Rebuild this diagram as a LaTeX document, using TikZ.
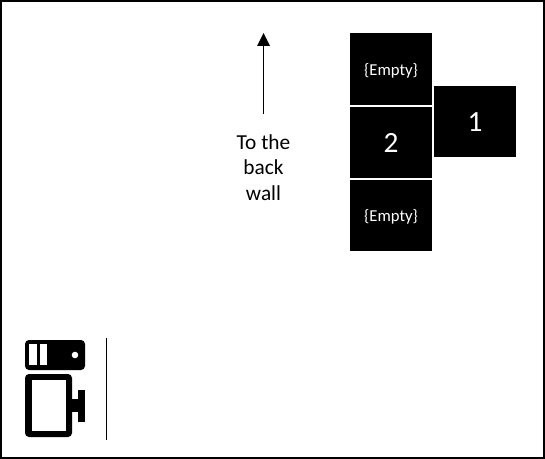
\documentclass[tikz,border=0pt]{standalone}
\usepackage{fontspec}
\setmainfont{Carlito}
\tikzset{
  slot/.style={draw=none, fill=black, minimum width=61.5pt, inner sep=0pt},
  slotlabel/.style={text=white, inner sep=0pt},
  note/.style={align=center, font=\fontsize{16}{19.3}\selectfont}
}
\begin{document}
\begin{tikzpicture}[x=0.75pt,y=-0.75pt]
    \useasboundingbox (0,0) rectangle (545,459);
    \draw[black, line width=1.5pt] (1,1) rectangle (544,458); % moldura

    % Blocos
    \node[slot, minimum height=54pt] (emptytop) at (391,69) {};
    \node[slot, minimum height=53.25pt] (two) at (391,142.5) {};
    \node[slot, minimum height=53.25pt] (emptybottom) at (391,215.5) {};
    \node[slot, minimum height=53.25pt] (one) at (475,121.5) {};

    % Textos dos blocos
    \node[slotlabel, font=\fontsize{12.5}{14}\selectfont] (emptytoplabel) at (391,70.5) {\{Empty\}};
    \node[slotlabel, font=\fontsize{22}{24}\selectfont] (twolabel) at (391,143) {2};
    \node[slotlabel, font=\fontsize{12.5}{14}\selectfont] (emptybottomlabel) at (391,217) {\{Empty\}};
    \node[slotlabel, font=\fontsize{22}{24}\selectfont] (onelabel) at (475,122) {1};

    % Seta
    \coordinate (arrowfoot) at (263.5,114);
    \coordinate (arrowhead) at (263.5,46);
    \draw[black, line width=0.75pt] (arrowfoot) -- (arrowhead);
    \fill[black] (263.5,33) -- (270,46) -- (257,46) -- cycle;
    \node[note] (wall) at (263.5,167.5) {To the\\back\\wall};

    % Servidor
    \fill[black, rounded corners=3pt] (25,340) rectangle (85,370);
    \fill[white] (29,344) rectangle (37,365);
    \fill[white] (40,344) rectangle (47,365);
    \fill[white] (75,355) circle (3.3);

    % Monitor
    \fill[black, rounded corners=3pt] (25,374) rectangle (72,437);
    \fill[white] (32,380) rectangle (66,431);
    \fill[black] (71,399) rectangle (79,412);
    \fill[black] (78,390) rectangle (85,422);

    \draw[black, line width=0.75pt] (106.5,338) -- (106.5,440);
\end{tikzpicture}
\end{document}
